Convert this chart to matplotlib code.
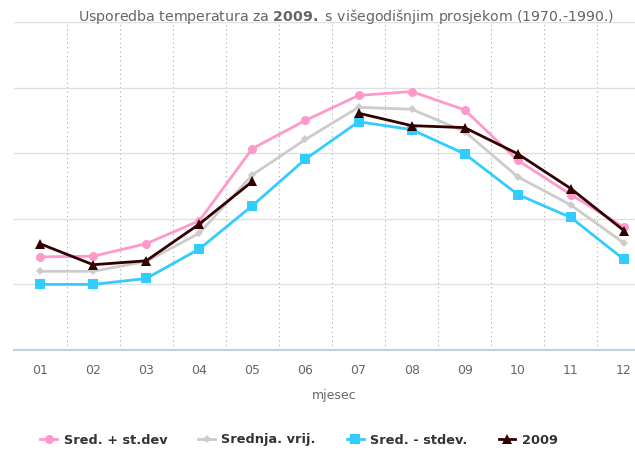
import matplotlib
matplotlib.use("Agg")
import matplotlib.pyplot as plt
from matplotlib.ticker import FixedLocator
import numpy as np

# monthly temperatures (deg C), 1970-1990 climate vs 2009
months = ["01", "02", "03", "04", "05", "06", "07", "08", "09", "10", "11", "12"]
sred_plus = [4.2, 4.3, 6.2, 9.7, 20.7, 25.0, 28.8, 29.4, 26.6, 18.9, 13.7, 8.7]
srednja = [2.0, 2.0, 3.5, 7.8, 16.7, 22.1, 27.0, 26.7, 23.3, 16.4, 12.1, 6.3]
sred_minus = [0.0, 0.0, 0.9, 5.4, 12.0, 19.1, 24.8, 23.6, 19.9, 13.7, 10.2, 3.8]
god_2009 = [6.2, 3.0, 3.6, 9.2, 15.7, None, 26.1, 24.2, 23.9, 19.9, 14.6, 8.2]

labels = ["Sred. + st.dev", "Srednja. vrij.", "Sred. - stdev.", "2009"]
colors = ["#ff99cc", "#cccccc", "#33ccff", "#330000"]
markers = ["o", "D", "s", "^"]
msizes = [6.5, 4.5, 6.5, 6.5]

fig = plt.figure(figsize=(6.35, 4.54), dpi=100)
ax = fig.add_axes([13.5 / 635, (454 - 350) / 454, 637 / 635, 328 / 454])

x = np.arange(len(months))
for vals, lab, c, m, ms in zip([sred_plus, srednja, sred_minus, god_2009],
                               labels, colors, markers, msizes):
    y = np.array([np.nan if v is None else v for v in vals], dtype=float)
    ax.plot(x, y, color=c, lw=2, marker=m, markersize=ms,
            markeredgewidth=0, label=lab, clip_on=False)

ax.set_xlim(-0.5, 11.5)
ax.set_ylim(-10, 40)
ax.set_xticks(x)
ax.set_xticklabels(months)
ax.xaxis.set_minor_locator(FixedLocator(np.arange(0.5, 11.5, 1)))
ax.set_yticks([0, 10, 20, 30, 40])
ax.set_yticklabels([])

ax.grid(axis="y", which="major", color="#e0e0e0", lw=1)
ax.grid(axis="x", which="minor", color="#aaaaaa", lw=0.8, linestyle=(0, (1, 3)))
ax.set_axisbelow(True)
ax.tick_params(axis="both", which="both", length=0)
ax.tick_params(axis="x", colors="#666666", labelsize=9, pad=10)

for side in ["top", "right", "left"]:
    ax.spines[side].set_visible(False)
ax.spines["bottom"].set_color("#c0d0e0")
ax.spines["bottom"].set_linewidth(1.5)

fig.text(346 / 635, 1 - 17 / 454,
         r"Usporedba temperatura za $\mathbf{2009.}$ s višegodišnjim prosjekom (1970.-1990.)",
         ha="center", va="center", color="#666666", fontsize=10.2)
fig.text(334 / 635, 1 - 396 / 454, "mjesec", ha="center", va="center",
         color="#666666", fontsize=9)

fig.legend(loc="center", bbox_to_anchor=(299 / 635, 1 - 440 / 454), ncol=4,
           frameon=False, prop={"weight": "bold", "size": 9.3},
           labelcolor="#333333", handlelength=1.3, handletextpad=0.5,
           columnspacing=2.4, markerscale=1.0)

fig.savefig("out.png", dpi=100)
